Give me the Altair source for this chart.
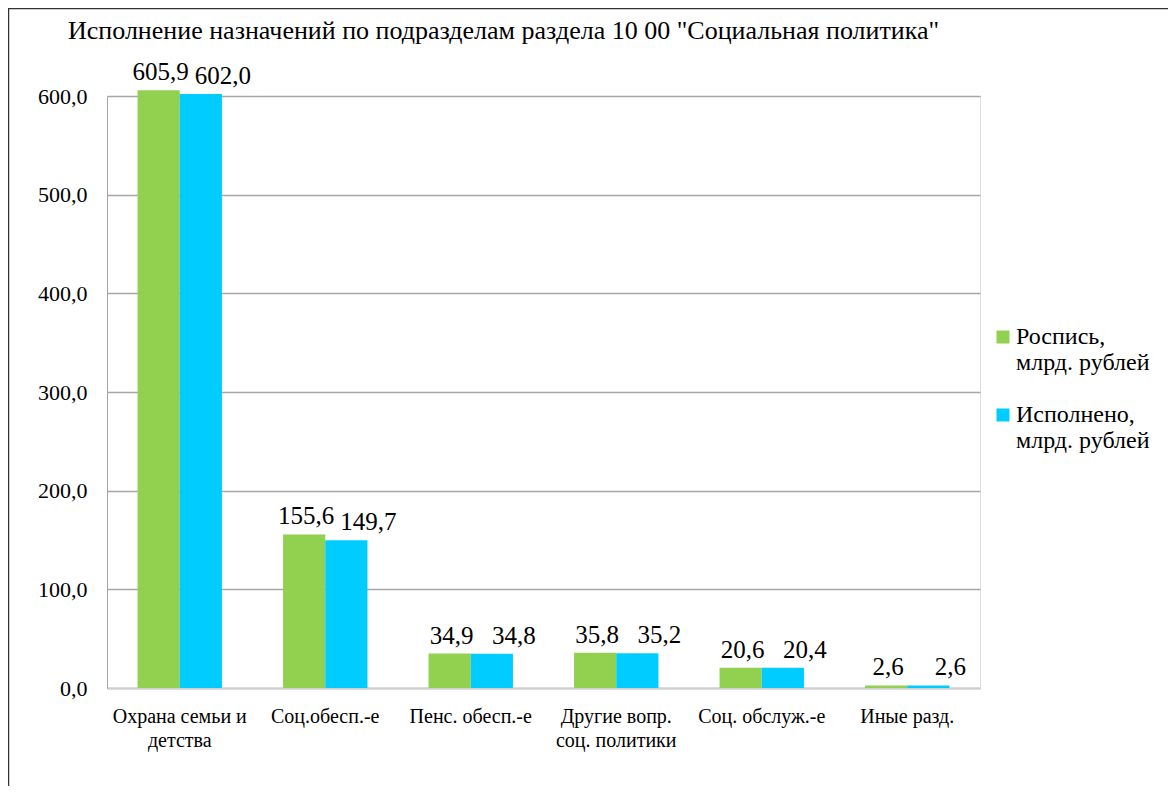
import altair as alt
import pandas as pd

categories = ["Охрана  семьи и|детства", "Соц.обесп.-е", "Пенс. обесп.-е",
              "Другие вопр.|соц. политики", "Соц. обслуж.-е", "Иные разд."]
plan = [605.9, 155.6, 34.9, 35.8, 20.6, 2.6]
done = [602.0, 149.7, 34.8, 35.2, 20.4, 2.6]
series = ["Роспись,|млрд. рублей", "Исполнено,|млрд. рублей"]
colors = ["#92D050", "#00CCFF"]

rows = []
for c, p, d in zip(categories, plan, done):
    rows.append({"cat": c, "series": series[0], "value": p,
                 "label": f"{p:.1f}".replace(".", ",")})
    rows.append({"cat": c, "series": series[1], "value": d,
                 "label": f"{d:.1f}".replace(".", ",")})
df = pd.DataFrame(rows)

FONT = "Liberation Serif"

x = alt.X("cat:N", sort=categories,
          scale=alt.Scale(paddingInner=0.42, paddingOuter=0.21),
          axis=alt.Axis(title=None, labelAngle=0, labelFont=FONT, labelFontSize=20,
                        labelColor="#000000", labelExpr="split(datum.label, '|')",
                        labelPadding=18, labelLineHeight=24, labelBaseline="top",
                        labelLimit=300,
                        ticks=False, domainColor="#D0D0D0", domainWidth=2, grid=False))
y = alt.Y("value:Q", scale=alt.Scale(domain=[0, 600], nice=False, zero=True),
          axis=alt.Axis(title=None, values=[0, 100, 200, 300, 400, 500, 600],
                        labelExpr="replace(format(datum.value, '.1f'), '.', ',')",
                        labelFont=FONT, labelFontSize=22, labelColor="#000000",
                        labelPadding=20, ticks=False, domainColor="#A6A6A6",
                        gridColor="#A6A6A6", gridWidth=1.5))
xo = alt.XOffset("series:N", sort=series)
color = alt.Color("series:N", sort=series,
                  scale=alt.Scale(domain=series, range=colors),
                  legend=alt.Legend(title=None, orient="none", legendX=884, legendY=229,
                                    symbolType="square", symbolSize=169, symbolStrokeWidth=0,
                                    labelFont=FONT, labelFontSize=24, labelColor="#000000",
                                    labelExpr="split(datum.label, '|')",
                                    labelLimit=300, labelOffset=1, rowPadding=28,
                                    padding=0))

bars = alt.Chart(df).mark_bar().encode(x=x, y=y, xOffset=xo, color=color)
text_plan = alt.Chart(df).transform_filter(alt.datum.series == series[0]).mark_text(
    baseline="alphabetic", dy=-10, dx=2, font=FONT, fontSize=25, color="#000000"
).encode(x=x, y=y, xOffset=xo, text="label:N")
text_done = alt.Chart(df).transform_filter(alt.datum.series == series[1]).mark_text(
    baseline="alphabetic", dy=-10, dx=22, font=FONT, fontSize=25, color="#000000"
).encode(x=x, y=y, xOffset=xo, text="label:N")

frame_df = pd.DataFrame({"k": [0]})
frame_top = alt.Chart(frame_df).mark_rule(color="#333333", strokeWidth=1.5).encode(
    x=alt.value(-99), x2=alt.value(1077), y=alt.value(-87.5))
frame_left = alt.Chart(frame_df).mark_rule(color="#333333", strokeWidth=1.5).encode(
    x=alt.value(-98.5), y=alt.value(-88), y2=alt.value(690))

chart = (frame_top + frame_left + bars + text_plan + text_done).properties(
    width=873, height=592,
    title=alt.TitleParams(
        "Исполнение назначений по подразделам раздела 10 00 \"Социальная политика\"",
        anchor="start", frame="group", dx=-39, offset=-58, baseline="alphabetic",
        font=FONT, fontSize=26, fontWeight="normal", color="#000000"),
    autosize=alt.AutoSizeParams(type="none"),
    padding={"left": 99, "top": 88, "right": 188, "bottom": 98},
).configure_view(stroke=None).configure(background="#FFFFFF")

chart.save("out.html", embed_options={"renderer": "svg", "actions": False})
